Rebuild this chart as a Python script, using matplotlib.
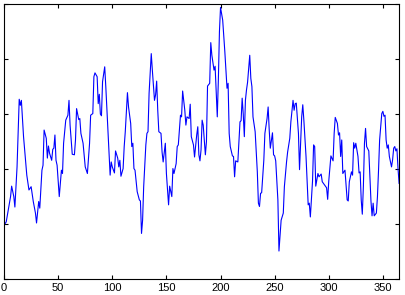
import matplotlib
matplotlib.use("Agg")
import matplotlib.pyplot as plt

# values (day index, signal level)
days = [0, 2, 6, 7, 9, 10, 12, 14, 15, 16, 18, 19, 21, 23, 25, 27, 29, 30, 32, 33,
        35, 36, 37, 39, 40, 41, 42, 44, 45, 46, 47, 48, 49, 51, 53, 54, 55, 57, 59, 60,
        61, 62, 63, 65, 66, 67, 69, 70, 71, 73, 75, 77, 79, 80, 82, 83, 84, 86, 87, 88,
        89, 90, 91, 93, 94, 96, 98, 99, 100, 102, 103, 105, 106, 107, 108, 110, 111, 112, 114, 115,
        117, 118, 119, 120, 121, 123, 125, 126, 127, 128, 129, 131, 132, 133, 134, 136, 137, 139, 140, 141,
        142, 143, 145, 146, 147, 149, 150, 152, 153, 155, 156, 157, 159, 160, 161, 163, 164, 165, 167, 168,
        169, 171, 172, 173, 175, 176, 178, 179, 180, 181, 182, 183, 184, 186, 187, 188, 190, 191, 192, 194,
        195, 197, 198, 199, 200, 202, 204, 206, 207, 208, 209, 211, 212, 213, 214, 216, 218, 219, 220, 221,
        222, 223, 224, 225, 227, 228, 229, 230, 232, 234, 235, 236, 237, 238, 240, 241, 243, 244, 245, 246,
        248, 249, 250, 251, 253, 254, 256, 258, 259, 261, 262, 264, 265, 267, 268, 269, 270, 272, 273, 275,
        276, 277, 279, 281, 282, 283, 285, 286, 287, 288, 290, 291, 293, 294, 297, 298, 299, 300, 302, 304,
        305, 306, 308, 309, 310, 311, 312, 313, 315, 317, 318, 319, 321, 322, 323, 324, 325, 327, 328, 329,
        330, 331, 332, 333, 334, 335, 337, 338, 339, 340, 341, 342, 344, 345, 346, 347, 349, 350, 351, 352,
        353, 354, 355, 356, 358, 359, 360, 361, 362, 363, 364, 365]
signal = [0.98, 1.04, 1.50, 1.69, 1.50, 1.31, 2.04, 3.27, 3.16, 3.25, 2.59, 2.35, 1.89, 1.62, 1.68, 1.41, 1.20, 1.02, 1.41, 1.29,
          1.98, 2.07, 2.71, 2.56, 2.20, 2.42, 2.29, 2.16, 2.36, 2.38, 2.62, 2.16, 2.07, 1.50, 1.98, 1.92, 2.47, 2.89, 2.98, 3.25,
          2.80, 2.53, 2.27, 2.26, 2.53, 3.10, 2.90, 2.92, 2.65, 2.47, 2.04, 1.92, 2.47, 2.98, 3.01, 3.68, 3.75, 3.68, 3.19, 3.36,
          3.00, 2.97, 3.59, 3.86, 3.50, 2.71, 1.89, 2.13, 2.04, 1.93, 2.33, 2.20, 2.04, 2.16, 1.87, 2.01, 2.41, 2.68, 3.39, 3.13,
          2.83, 2.41, 2.47, 2.01, 1.98, 1.59, 1.44, 1.42, 0.83, 1.07, 1.68, 2.44, 2.65, 2.68, 3.38, 4.10, 3.80, 3.25, 3.35, 3.60,
          3.07, 2.68, 2.65, 2.31, 2.13, 2.47, 1.92, 1.35, 1.69, 1.50, 2.01, 1.92, 2.10, 2.41, 2.44, 2.98, 2.95, 3.42, 3.07, 2.80,
          2.95, 2.92, 3.18, 2.59, 2.44, 2.22, 2.62, 2.77, 2.26, 2.15, 2.35, 2.89, 2.80, 2.26, 2.50, 3.51, 3.56, 4.30, 4.07, 3.80,
          3.87, 2.95, 3.62, 4.50, 4.94, 4.71, 4.13, 3.47, 3.56, 2.65, 2.41, 2.24, 2.23, 1.86, 2.15, 2.13, 2.86, 2.88, 3.29, 3.00,
          2.59, 3.25, 3.44, 3.58, 4.07, 3.65, 3.50, 2.95, 2.68, 1.95, 1.38, 1.32, 1.56, 1.57, 2.16, 2.65, 2.92, 3.13, 2.71, 2.38,
          2.66, 2.26, 2.24, 2.15, 1.44, 0.51, 1.07, 1.20, 1.68, 2.13, 2.31, 2.56, 2.86, 3.25, 3.07, 3.19, 3.20, 2.65, 1.99, 2.95,
          3.17, 2.89, 2.23, 1.35, 1.38, 1.13, 1.78, 2.44, 2.41, 1.69, 1.92, 1.86, 1.91, 1.77, 1.69, 1.66, 1.45, 1.78, 2.24, 2.15,
          2.65, 2.94, 2.83, 2.62, 2.66, 2.23, 2.53, 1.92, 1.98, 1.44, 1.42, 1.77, 1.95, 1.89, 2.48, 2.38, 2.47, 2.23, 1.93, 1.95,
          1.44, 1.18, 1.69, 2.47, 2.74, 2.41, 2.33, 1.89, 1.42, 1.15, 1.38, 1.15, 1.20, 1.50, 1.98, 2.53, 3.01, 3.05, 2.96, 2.98,
          2.53, 2.38, 2.44, 2.23, 2.04, 2.17, 2.38, 2.41, 2.33, 2.37, 2.01, 1.74]

x_ticks = [0, 50, 100, 150, 200, 250, 300, 350]
y_ticks = [0, 1, 2, 3, 4, 5]

plt.rcParams['font.family'] = ['Liberation Sans', 'DejaVu Sans']

fig = plt.figure(figsize=(4.06, 2.95), dpi=100)
ax = fig.add_axes([0.01, 0.054, 0.973, 0.932])
ax.plot(days, signal, color='#0000ff', linewidth=0.8)

ax.set_xlim(0, 365)
ax.set_ylim(0, 5)
ax.set_xticks(x_ticks)
ax.set_yticks(y_ticks)
ax.set_yticklabels([])
ax.tick_params(direction='in', length=3, width=0.8, top=True, right=True, labelsize=8, pad=3)
for s in ax.spines.values():
    s.set_linewidth(0.8)

fig.savefig('out.png', dpi=100)
